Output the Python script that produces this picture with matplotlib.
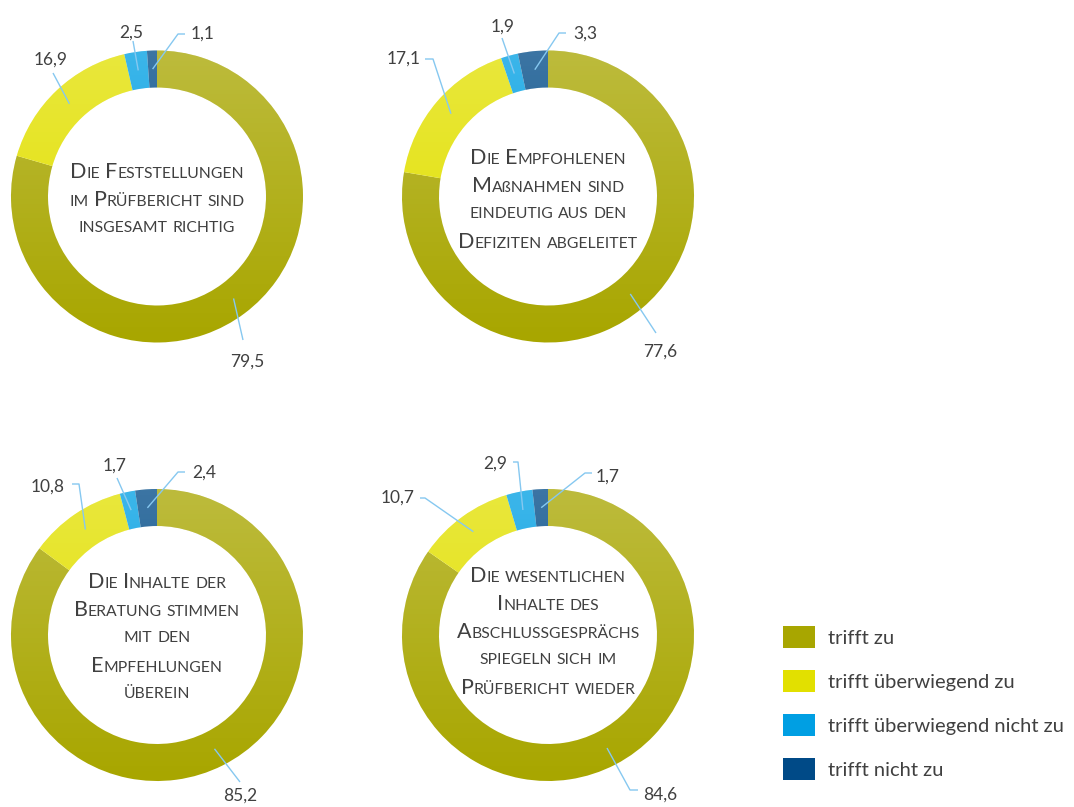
import numpy as np
import matplotlib
matplotlib.use("Agg")
import matplotlib.pyplot as plt
from matplotlib.offsetbox import TextArea, HPacker, AnnotationBbox
from matplotlib.patches import Wedge

# data
categories = ["trifft zu", "trifft überwiegend zu",
              "trifft überwiegend nicht zu", "trifft nicht zu"]
vals_feststellungen = [79.5, 16.9, 2.5, 1.1]
vals_massnahmen = [77.6, 17.1, 1.9, 3.3]
vals_beratung = [85.2, 10.8, 1.7, 2.4]
vals_abschluss = [84.6, 10.7, 2.9, 1.7]

title_feststellungen = ["Die Feststellungen", "im Prüfbericht sind", "insgesamt richtig"]
title_massnahmen = ["Die Empfohlenen", "Maßnahmen sind", "eindeutig aus den",
                    "Defiziten abgeleitet"]
title_beratung = ["Die Inhalte der", "Beratung stimmen", "mit den",
                  "Empfehlungen", "überein"]
title_abschluss = ["Die wesentlichen", "Inhalte des", "Abschlussgesprächs",
                   "spiegeln sich im", "Prüfbericht wieder"]

colors = ["#A8A600", "#E2E000", "#009FE3", "#004A87"]
TXT = "#404040"
LINE = "#86C8F0"
FONT = "Lato"

# layout (pixel coords, y down)
R = 146
RING = 37
charts = [
    dict(vals=vals_feststellungen, title=title_feststellungen, c=(157, 196.5), ty=199.5,
         labels=[((247, 362), [(243, 340)]),
                 ((51, 60), [(53, 73)]),
                 ((131, 33), [(133, 41)]),
                 ((203, 34), [(178, 34), (185, 34)])]),
    dict(vals=vals_massnahmen, title=title_massnahmen, c=(548, 196.5), ty=200,
         labels=[((660, 352), [(656, 333)]),
                 ((404, 59), [(433, 59), (425, 59)]),
                 ((503, 27), [(502, 38)]),
                 ((585, 34), [(559, 33), (566, 33)])]),
    dict(vals=vals_beratung, title=title_beratung, c=(157, 635), ty=638,
         labels=[((240, 796), [(240, 782)]),
                 ((48, 487), [(79, 484), (72, 484)]),
                 ((115, 466), [(117, 478)]),
                 ((204, 473), [(178, 472), (185, 472)])]),
    dict(vals=vals_abschluss, title=title_abschluss, c=(548, 635), ty=632,
         labels=[((660, 795), [(630, 790), (638, 790)]),
                 ((398, 498), [(425, 498), (420, 498)]),
                 ((495, 464), [(518, 462), (513, 462)]),
                 ((608, 477), [(585, 473), (592, 473)])]),
]


def small_caps_line(line, big=15.5, small=11.3):
    words = []
    for w in line.split(" "):
        runs = []
        cur, cur_big = "", None
        for ch in w:
            isbig = ch.isupper()
            if cur and isbig != cur_big:
                runs.append((cur, cur_big))
                cur = ""
            cur += ch if (isbig or ch == "ß") else ch.upper()
            cur_big = isbig
        runs.append((cur, cur_big))
        boxes = [TextArea(t, textprops=dict(fontsize=big if b else small,
                                            color=TXT, family=FONT))
                 for t, b in runs]
        words.append(HPacker(children=boxes, align="baseline", pad=0, sep=0))
    return HPacker(children=words, align="baseline", pad=0, sep=3.5)


fig = plt.figure(figsize=(10.74, 8.07), dpi=100)
ax = fig.add_axes([0, 0, 1, 1])

# soft light-from-top shading on the rings
shade = np.ones((200, 1, 4))
shade[:, 0, 3] = np.linspace(0.24, 0.0, 200)

handles = None
for ch in charts:
    cx, cy = ch["c"]
    wedges, _ = ax.pie(ch["vals"], colors=colors, startangle=-90, counterclock=True,
                       center=(cx, cy), radius=R,
                       wedgeprops=dict(width=RING, linewidth=0))
    if handles is None:
        handles = wedges

    im = ax.imshow(shade, extent=(cx - R, cx + R, cy + R, cy - R), aspect="auto",
                   interpolation="bilinear", zorder=1.5)
    ring = Wedge((cx, cy), R, 0, 360, width=RING, transform=ax.transData)
    im.set_clip_path(ring)

    # value labels with leader lines
    total = sum(ch["vals"])
    cum = np.cumsum([0] + ch["vals"])
    for i, v in enumerate(ch["vals"]):
        mid = (cum[i] + v / 2) / total
        th = np.deg2rad(-90 + mid * 360)
        rr = R - RING * 0.5
        ax_, ay_ = cx + rr * np.cos(th), cy + rr * np.sin(th)
        (tx, ty), pts = ch["labels"][i]
        xs = [ax_] + [p[0] for p in pts]
        ys = [ay_] + [p[1] for p in pts]
        ax.plot(xs, ys, color=LINE, lw=1, solid_capstyle="butt", zorder=3)
        ax.text(tx, ty, f"{v:.1f}".replace(".", ","), ha="center", va="center",
                fontsize=12.5, color=TXT, family=FONT)

    # center title in small caps
    n = len(ch["title"])
    for j, line in enumerate(ch["title"]):
        yy = ch["ty"] + (j - (n - 1) / 2) * 28
        ab = AnnotationBbox(small_caps_line(line), (cx, yy), xycoords="data",
                            box_alignment=(0.5, 0.5), frameon=False, pad=0)
        ax.add_artist(ab)

ax.set_xlim(0, 1074)
ax.set_ylim(807, 0)
ax.set_aspect("equal")
ax.axis("off")

leg = ax.legend(handles, categories, loc="upper left",
                bbox_to_anchor=(783 / 1074, 1 - 626 / 807),
                frameon=False, borderpad=0, borderaxespad=0,
                handlelength=1.6, handleheight=1.3,
                handletextpad=0.65, labelspacing=1.1,
                prop=dict(family=FONT, size=14.5))
for t in leg.get_texts():
    t.set_color(TXT)

fig.savefig("out.png", dpi=100)
